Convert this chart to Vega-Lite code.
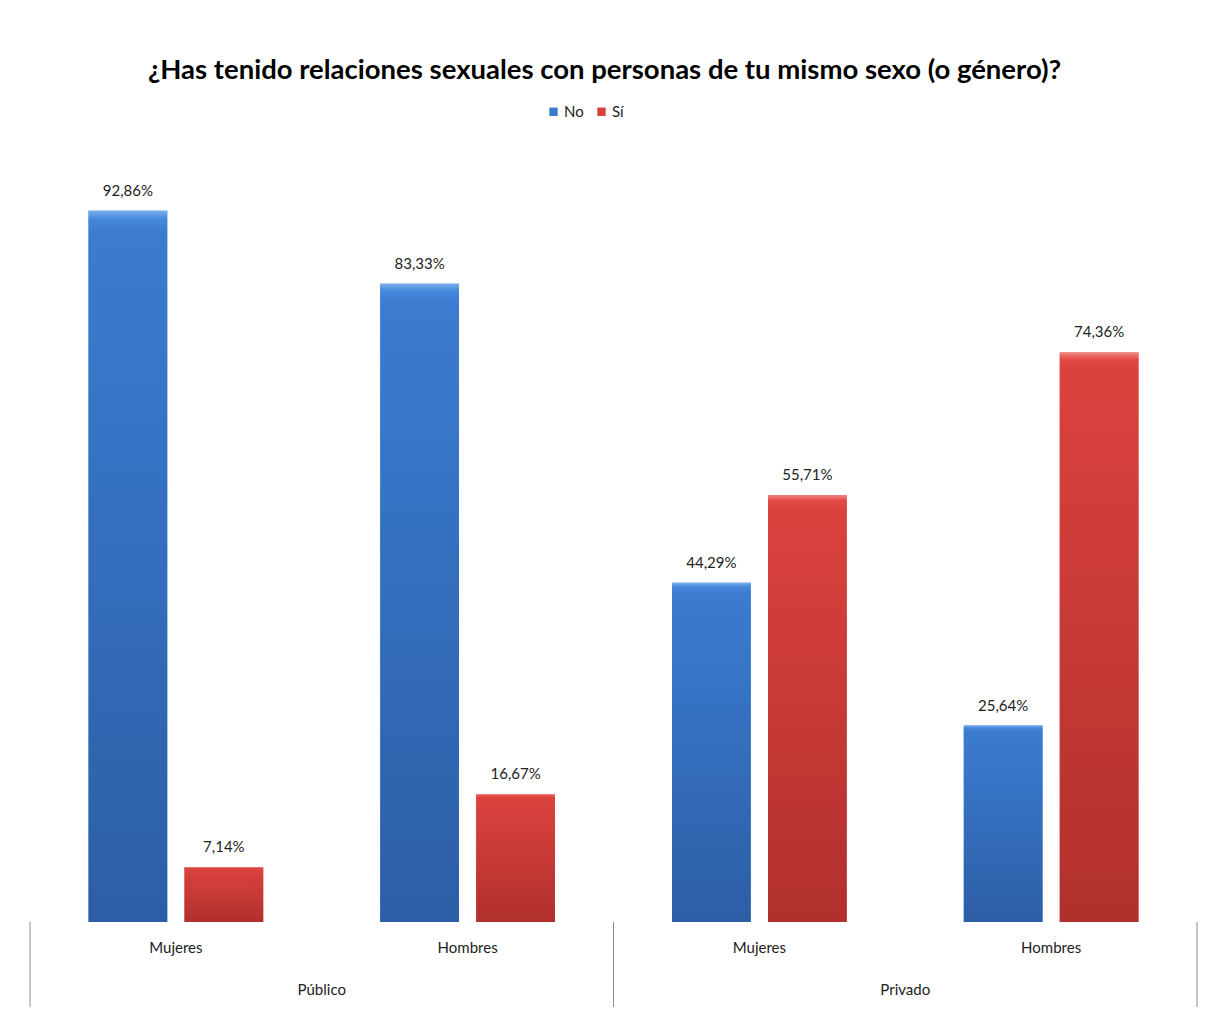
{
  "$schema": "https://vega.github.io/schema/vega-lite/v6.json",
  "width": 1167,
  "height": 851,
  "padding": {"left": 29, "top": 56, "right": 0, "bottom": 0},
  "background": "white",
  "config": {
    "view": {"stroke": null},
    "locale": {"number": {"decimal": ",", "thousands": ".", "grouping": [3], "currency": ["", " €"]}},
    "font": "Lato"
  },
  "title": {
    "text": "¿Has tenido relaciones sexuales con personas de tu mismo sexo (o género)?",
    "font": "Lato",
    "fontSize": 27.5,
    "fontWeight": "bold",
    "color": "#000000",
    "anchor": "middle",
    "dx": -9,
    "offset": 20
  },
  "datasets": {
    "respuestas": [
      {"grupo": "Público-Mujeres", "sector": "Público", "genero": "Mujeres", "respuesta": "No", "valor": 0.9286},
      {"grupo": "Público-Mujeres", "sector": "Público", "genero": "Mujeres", "respuesta": "Sí", "valor": 0.0714},
      {"grupo": "Público-Hombres", "sector": "Público", "genero": "Hombres", "respuesta": "No", "valor": 0.8333},
      {"grupo": "Público-Hombres", "sector": "Público", "genero": "Hombres", "respuesta": "Sí", "valor": 0.1667},
      {"grupo": "Privado-Mujeres", "sector": "Privado", "genero": "Mujeres", "respuesta": "No", "valor": 0.4429},
      {"grupo": "Privado-Mujeres", "sector": "Privado", "genero": "Mujeres", "respuesta": "Sí", "valor": 0.5571},
      {"grupo": "Privado-Hombres", "sector": "Privado", "genero": "Hombres", "respuesta": "No", "valor": 0.2564},
      {"grupo": "Privado-Hombres", "sector": "Privado", "genero": "Hombres", "respuesta": "Sí", "valor": 0.7436}
    ],
    "generos": [
      {"grupo": "Público-Mujeres", "genero": "Mujeres"},
      {"grupo": "Público-Hombres", "genero": "Hombres"},
      {"grupo": "Privado-Mujeres", "genero": "Mujeres"},
      {"grupo": "Privado-Hombres", "genero": "Hombres"}
    ],
    "sectores": [
      {"grupo": "Público-Mujeres", "sector": "Público"},
      {"grupo": "Privado-Mujeres", "sector": "Privado"}
    ],
    "divisores_inicio": [
      {"grupo": "Público-Mujeres"},
      {"grupo": "Privado-Mujeres"}
    ],
    "divisores_fin": [
      {"grupo": "Privado-Hombres"}
    ]
  },
  "layer": [
    {
      "data": {"name": "respuestas"},
      "mark": {"type": "bar"},
      "encoding": {
        "x": {"field": "grupo", "type": "nominal", "axis": null,
              "scale": {"domain": ["Público-Mujeres", "Público-Hombres", "Privado-Mujeres", "Privado-Hombres"], "paddingInner": 0, "paddingOuter": 0}},
        "xOffset": {"field": "respuesta", "type": "nominal",
                    "scale": {"domain": ["No", "Sí"], "paddingInner": 0.18, "paddingOuter": 0.61}},
        "y": {"field": "valor", "type": "quantitative", "axis": null,
              "scale": {"domain": [-0.111, 1], "nice": false, "zero": true}},
        "color": {"field": "respuesta", "type": "nominal",
                  "scale": {"domain": ["No", "Sí"], "range": ["#3A7BD0", "#D8403C"]},
                  "legend": {"title": null, "orient": "none", "direction": "horizontal",
                             "legendX": 516, "legendY": -52, "symbolType": "square",
                             "symbolSize": 70, "labelFontSize": 15, "labelFont": "Lato",
                             "labelColor": "#222222", "columnPadding": 10, "labelOffset": 3, "symbolStrokeWidth": 0}}
      }
    },
    {
      "data": {"name": "respuestas"},
      "transform": [{"filter": "datum.respuesta === 'No'"}],
      "mark": {"type": "bar", "fill": {"gradient": "linear", "x1": 0, "y1": 0, "x2": 0, "y2": 1,
               "stops": [{"offset": 0, "color": "#7AAEEE"}, {"offset": 0.012, "color": "#4587DA"}, {"offset": 0.03, "color": "#3B7CD1"}, {"offset": 1, "color": "#2C5EA5"}]}},
      "encoding": {
        "x": {"field": "grupo", "type": "nominal"},
        "xOffset": {"field": "respuesta", "type": "nominal"},
        "y": {"field": "valor", "type": "quantitative"}
      }
    },
    {
      "data": {"name": "respuestas"},
      "transform": [{"filter": "datum.respuesta === 'Sí'"}],
      "mark": {"type": "bar", "fill": {"gradient": "linear", "x1": 0, "y1": 0, "x2": 0, "y2": 1,
               "stops": [{"offset": 0, "color": "#F28580"}, {"offset": 0.012, "color": "#E44B47"}, {"offset": 0.03, "color": "#DB423E"}, {"offset": 1, "color": "#B0302D"}]}},
      "encoding": {
        "x": {"field": "grupo", "type": "nominal"},
        "xOffset": {"field": "respuesta", "type": "nominal"},
        "y": {"field": "valor", "type": "quantitative"}
      }
    },
    {
      "data": {"name": "respuestas"},
      "mark": {"type": "text", "dy": -20, "fontSize": 15, "font": "Lato", "color": "#222222"},
      "encoding": {
        "x": {"field": "grupo", "type": "nominal"},
        "xOffset": {"field": "respuesta", "type": "nominal"},
        "y": {"field": "valor", "type": "quantitative"},
        "text": {"field": "valor", "type": "quantitative", "format": ".2%"}
      }
    },
    {
      "mark": {"type": "rule", "color": "#9a9a9a", "strokeWidth": 1},
      "encoding": {"y": {"datum": 0}}
    },
    {
      "data": {"name": "divisores_inicio"},
      "mark": {"type": "rule", "color": "#8a8a8a", "strokeWidth": 1},
      "encoding": {
        "x": {"field": "grupo", "type": "nominal", "bandPosition": 0},
        "y": {"datum": 0},
        "y2": {"datum": -0.111}
      }
    },
    {
      "data": {"name": "divisores_fin"},
      "mark": {"type": "rule", "color": "#8a8a8a", "strokeWidth": 1},
      "encoding": {
        "x": {"field": "grupo", "type": "nominal", "bandPosition": 1},
        "y": {"datum": 0},
        "y2": {"datum": -0.111}
      }
    },
    {
      "data": {"name": "generos"},
      "mark": {"type": "text", "fontSize": 15, "font": "Lato", "color": "#222222"},
      "encoding": {
        "x": {"field": "grupo", "type": "nominal"},
        "y": {"datum": -0.034},
        "text": {"field": "genero"}
      }
    },
    {
      "data": {"name": "sectores"},
      "mark": {"type": "text", "fontSize": 15, "font": "Lato", "color": "#222222"},
      "encoding": {
        "x": {"field": "grupo", "type": "nominal", "bandPosition": 1},
        "y": {"datum": -0.089},
        "text": {"field": "sector"}
      }
    }
  ]
}
